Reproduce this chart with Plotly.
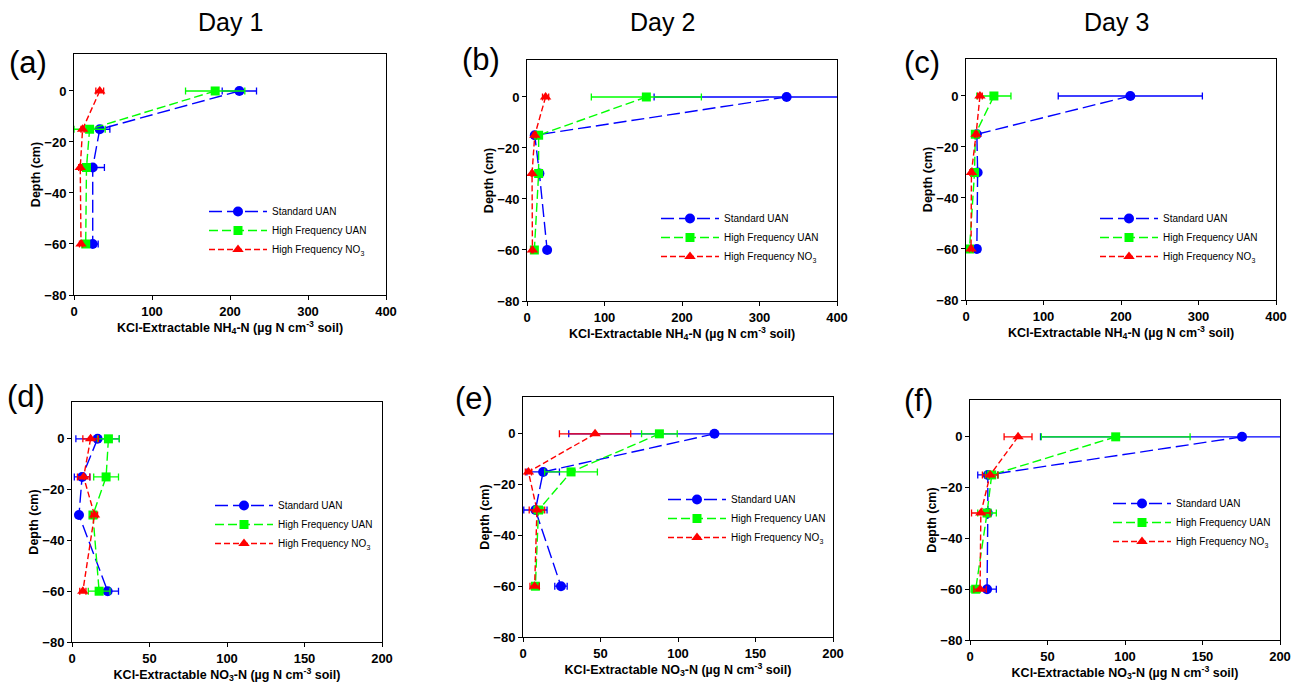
import plotly.graph_objects as go

# ---------------- data ----------------
depths = [0, -15, -30, -60]
series_names = ["Standard UAN", "High Frequency UAN", "High Frequency NO<sub>3</sub>"]

# (a) NH4 Day 1
a_std = [212, 33, 24, 24];    a_std_err = [22, 13, 15, 7]
a_hfu = [181, 20, 16, 15];    a_hfu_err = [38, 20, 3, 3]
a_hfn = [33, 11, 8, 9];       a_hfn_err = [5, 2, 2, 2]
# (b) NH4 Day 2
b_std = [335, 10, 16, 26];    b_std_err = [171, 3, 3, 3]
b_hfu = [154, 15, 15, 9.5];   b_hfu_err = [71, 3, 3, 2]
b_hfn = [24, 10, 6.5, 7];     b_hfn_err = [4, 2, 1, 1]
# (c) NH4 Day 3
c_std = [212, 14, 15, 14];    c_std_err = [93, 2, 2, 4]
c_hfu = [36, 12, 11, 4.5];    c_hfu_err = [22, 2, 2, 2]
c_hfn = [18, 13, 7, 6.5];     c_hfn_err = [3, 2, 2, 2]
# (d) NO3 Day 1
d_std = [16.5, 6.5, 4.5, 23]; d_std_err = [14, 5, 1, 7]
d_hfu = [23.5, 22, 13.5, 17.5]; d_hfu_err = [7, 8, 2, 7]
d_hfn = [12, 7.5, 14.5, 7];   d_hfn_err = [5, 4, 2, 2]
# (e) NO3 Day 2
e_std = [123.5, 13, 8, 24.5]; e_std_err = [94, 10.5, 7.5, 4]
e_hfu = [88, 31, 10, 8];      e_hfu_err = [11.5, 17, 3, 2]
e_hfn = [46.5, 3.5, 9, 7.5];  e_hfn_err = [23, 2, 5, 3]
# (f) NO3 Day 3
f_std = [175.5, 11.5, 11.5, 11]; f_std_err = [130, 6.5, 2, 6]
f_hfu = [94, 14, 11, 3.7];    f_hfu_err = [48, 4, 6, 3]
f_hfn = [31, 13, 7, 6.5];     f_hfn_err = [9, 5, 6, 4]

panels = [
    ("(a)", [(a_std, a_std_err), (a_hfu, a_hfu_err), (a_hfn, a_hfn_err)], 400, 100, "NH<sub>4</sub>"),
    ("(b)", [(b_std, b_std_err), (b_hfu, b_hfu_err), (b_hfn, b_hfn_err)], 400, 100, "NH<sub>4</sub>"),
    ("(c)", [(c_std, c_std_err), (c_hfu, c_hfu_err), (c_hfn, c_hfn_err)], 400, 100, "NH<sub>4</sub>"),
    ("(d)", [(d_std, d_std_err), (d_hfu, d_hfu_err), (d_hfn, d_hfn_err)], 200, 50, "NO<sub>3</sub>"),
    ("(e)", [(e_std, e_std_err), (e_hfu, e_hfu_err), (e_hfn, e_hfn_err)], 200, 50, "NO<sub>3</sub>"),
    ("(f)", [(f_std, f_std_err), (f_hfu, f_hfu_err), (f_hfn, f_hfn_err)], 200, 50, "NO<sub>3</sub>"),
]
day_titles = ["Day 1", "Day 2", "Day 3"]

# ---------------- styling ----------------
W, H = 1296, 684
FONT = "Arial, Liberation Sans, sans-serif"
colors = ["#0000FF", "#00FF00", "#FF0000"]
symbols = ["circle", "square", "triangle-up"]
dashes = ["13px,5px", "9px,4px", "6px,3px"]
msizes = [10, 9, 10]

# pixel boxes of the plot areas: (x0, x1, y0_top, y1_bottom)
boxes = [
    (74, 386, 54, 295), (527, 837, 60, 301), (966, 1276, 59, 300),
    (72, 382, 402, 642), (523, 833, 397, 637), (970, 1280, 400, 640),
]
legend_pos = [(204, 197), (656, 204), (1095, 204), (210, 491), (663, 485), (1108, 489)]
letter_pos = [(28, 62), (481, 59), (922, 62), (26, 397), (474, 398), (918, 400)]
day_x = [230, 662, 1116]

fig = go.Figure()
layout = dict(
    width=W, height=H, autosize=False,
    margin=dict(l=0, r=0, t=0, b=0, pad=0, autoexpand=False),
    paper_bgcolor="white", plot_bgcolor="white",
    font=dict(family=FONT, color="black", size=11),
    annotations=[],
)

for i, (letter, sers, xmax, xdt, ion) in enumerate(panels):
    k = i + 1
    xa = "x" if k == 1 else f"x{k}"
    ya = "y" if k == 1 else f"y{k}"
    lg = "legend" if k == 1 else f"legend{k}"
    for j, (vals, errs) in enumerate(sers):
        fig.add_trace(go.Scatter(
            x=vals, y=depths, xaxis=xa, yaxis=ya, legend=lg,
            mode="lines+markers", name=series_names[j],
            line=dict(color=colors[j], width=1.4, dash=dashes[j]),
            marker=dict(color=colors[j], symbol=symbols[j], size=msizes[j]),
            error_x=dict(type="data", array=errs, visible=True,
                         color=colors[j], thickness=1.3, width=3.5),
        ))
    x0, x1, y0, y1 = boxes[i]
    axkw = dict(showline=True, linecolor="black", linewidth=1, mirror=True,
                ticks="outside", ticklen=4, tickwidth=1, tickcolor="black",
                showgrid=False, zeroline=False, automargin=False,
                tickfont=dict(family=FONT, size=13, color="black", weight="bold"))
    layout["xaxis" if k == 1 else f"xaxis{k}"] = dict(
        domain=[x0 / W, x1 / W], anchor=ya, range=[0, xmax],
        tickvals=list(range(0, xmax + 1, xdt)),
        title=dict(text=f"<b>KCl-Extractable {ion}-N (µg N cm<sup>-3</sup> soil)</b>",
                   font=dict(family=FONT, size=12.5, color="black"), standoff=4),
        **axkw)
    layout["yaxis" if k == 1 else f"yaxis{k}"] = dict(
        domain=[1 - y1 / H, 1 - y0 / H], anchor=xa, range=[-80, 14.5],
        tickvals=[-80, -60, -40, -20, 0],
        title=dict(text="<b>Depth (cm)</b>",
                   font=dict(family=FONT, size=12.5, color="black"), standoff=0),
        **axkw)
    lx, ly = legend_pos[i]
    layout[lg] = dict(
        x=lx / W, y=1 - ly / H, xanchor="left", yanchor="top",
        bgcolor="rgba(0,0,0,0)", borderwidth=0, itemwidth=58,
        font=dict(family=FONT, size=10, color="black"),
        tracegroupgap=0,
    )
    px, py = letter_pos[i]
    layout["annotations"].append(dict(
        text=letter, x=px / W, y=1 - py / H, xref="paper", yref="paper",
        xanchor="center", yanchor="middle", showarrow=False,
        font=dict(family=FONT, size=31, color="black")))

for c, t in enumerate(day_titles):
    layout["annotations"].append(dict(
        text=t, x=day_x[c] / W, y=1 - 22 / H, xref="paper", yref="paper",
        xanchor="center", yanchor="middle", showarrow=False,
        font=dict(family=FONT, size=25, color="black")))

fig.update_layout(**layout)
fig.write_html("out.html",
               post_script="document.body.style.margin='0px';document.body.style.overflow='hidden';",
               config={"displayModeBar": False})
